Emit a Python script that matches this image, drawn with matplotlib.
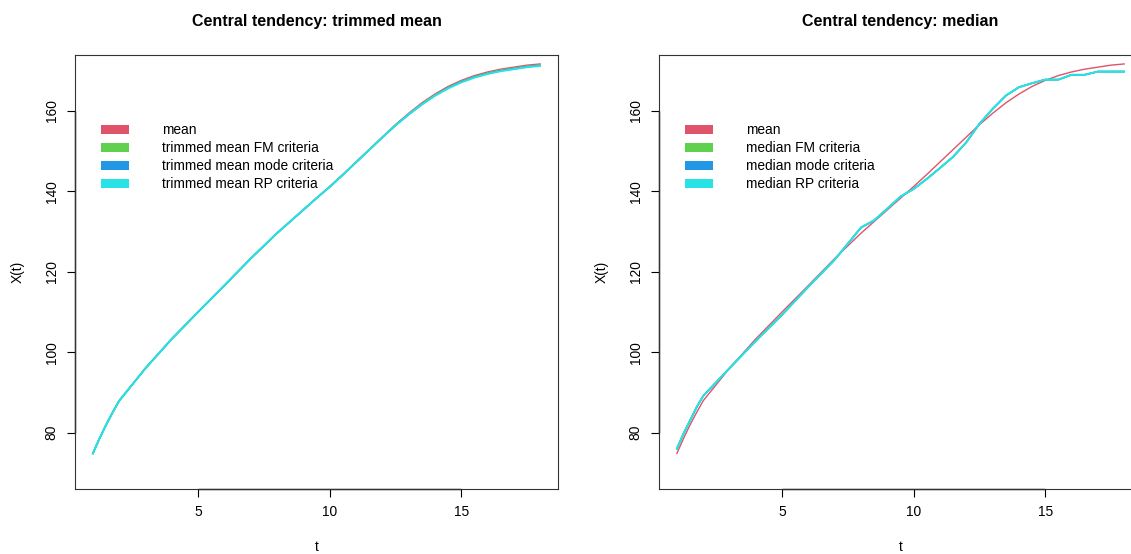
import numpy as np
import matplotlib
matplotlib.use("Agg")
import matplotlib.pyplot as plt
from matplotlib.patches import Patch

plt.rcParams['font.family'] = ['Liberation Sans', 'DejaVu Sans']

# ages of measurement
t = [1, 1.25, 1.5, 1.75, 2, 3, 4, 5, 6, 7, 8, 8.5, 9, 9.5, 10, 10.5, 11, 11.5,
     12, 12.5, 13, 13.5, 14, 14.5, 15, 15.5, 16, 16.5, 17, 17.5, 18]

mean = [74.8, 78.5, 81.9, 85.0, 87.9, 96.0, 103.3, 110.0, 116.6, 123.3, 129.6,
        132.5, 135.4, 138.3, 141.2, 144.2, 147.3, 150.4, 153.5, 156.6, 159.4,
        162.0, 164.2, 166.1, 167.6, 168.8, 169.7, 170.4, 170.9, 171.4, 171.7]

tm_fm = [74.8, 78.5, 81.9, 85.0, 87.9, 96.0, 103.3, 110.0, 116.6, 123.3, 129.6,
         132.5, 135.4, 138.3, 141.1, 144.1, 147.2, 150.3, 153.4, 156.4, 159.2,
         161.7, 163.9, 165.8, 167.3, 168.5, 169.4, 170.1, 170.6, 171.1, 171.4]
tm_mode = [74.8, 78.5, 81.9, 85.0, 87.9, 96.0, 103.3, 110.0, 116.6, 123.3, 129.6,
           132.5, 135.4, 138.3, 141.1, 144.1, 147.2, 150.3, 153.4, 156.4, 159.1,
           161.6, 163.8, 165.7, 167.2, 168.4, 169.3, 170.0, 170.5, 171.0, 171.3]
tm_rp = [74.8, 78.5, 81.9, 85.0, 87.9, 96.0, 103.3, 110.0, 116.6, 123.3, 129.6,
         132.5, 135.4, 138.3, 141.1, 144.1, 147.2, 150.3, 153.4, 156.4, 159.1,
         161.6, 163.8, 165.6, 167.1, 168.3, 169.2, 169.9, 170.4, 170.9, 171.2]

med = [76.0, 79.7, 83.0, 86.3, 89.1, 96.0, 102.8, 109.3, 116.3, 123.0, 131.0,
       132.8, 135.7, 138.7, 140.6, 143.1, 145.8, 148.6, 152.2, 156.8, 160.5,
       163.8, 165.9, 166.9, 167.8, 167.8, 169.0, 169.0, 169.8, 169.8, 169.8]
med_fm = med
med_mode = med
med_rp = med

colors = ["#DF536B", "#61D04F", "#2297E6", "#28E2E5"]
widths = [1.0, 1.2, 1.2, 1.4]
left_labels = ["mean", "trimmed mean FM criteria", "trimmed mean mode criteria",
               "trimmed mean RP criteria"]
right_labels = ["mean", "median FM criteria", "median mode criteria",
                "median RP criteria"]

W, H = 1131, 554
fig = plt.figure(figsize=(W / 100, H / 100), dpi=100)

def px_axes(x0, x1, y0, y1):
    return fig.add_axes([x0 / W, 1 - y1 / H, (x1 - x0) / W, (y1 - y0) / H])

ax1 = px_axes(75, 558, 54.7, 488.8)
ax2 = px_axes(659, 1142, 54.7, 488.8)

panels = [
    (ax1, [mean, tm_fm, tm_mode, tm_rp], left_labels,
     "Central tendency: trimmed mean"),
    (ax2, [mean, med_fm, med_mode, med_rp], right_labels,
     "Central tendency: median"),
]

for ax, series, labels, title in panels:
    for s, c, w in zip(series, colors, widths):
        ax.plot(t, s, color=c, lw=w)
    ax.set_xlim(0.32, 18.68)
    ax.set_ylim(66, 174)
    ax.set_xticks([5, 10, 15])
    ax.set_yticks([80, 100, 120, 140, 160])
    ax.tick_params(direction="out", length=5.8, width=0.8, labelsize=9.9,
                   pad=6)
    for lab in ax.get_yticklabels():
        lab.set_rotation(90)
        lab.set_va("center")
    for sp in ax.spines.values():
        sp.set_linewidth(0.8)
        sp.set_color("#333333")
    # R-style axis lines spanning first to last tick
    xt, yt = ax.get_xticks(), ax.get_yticks()
    ax.hlines(66, xt[0], xt[-1], color="black", lw=1.0, clip_on=False)
    ax.vlines(0.32, yt[0], yt[-1], color="black", lw=1.0, clip_on=False)
    ax.set_xlabel("t", fontsize=9.9)
    ax.set_ylabel("X(t)", fontsize=9.9)
    ax.xaxis.set_label_coords(0.5, -0.134)
    ax.yaxis.set_label_coords(-0.118, 0.5)
    ax.xaxis.label.set_va("center")
    ax.yaxis.label.set_va("center")
    ax.text(0.5, 1.0776, title, transform=ax.transAxes, ha="center",
            va="center", fontsize=11.5, fontweight="bold")
    handles = [Patch(facecolor=c, edgecolor="none") for c in colors]
    ax.legend(handles, labels, loc="upper left", bbox_to_anchor=(0.054, 0.842),
              frameon=False, fontsize=9.9, handlelength=2.05,
              handleheight=0.66, handletextpad=2.4, labelspacing=0.29,
              borderpad=0, borderaxespad=0)

fig.savefig("out.png", dpi=100)
